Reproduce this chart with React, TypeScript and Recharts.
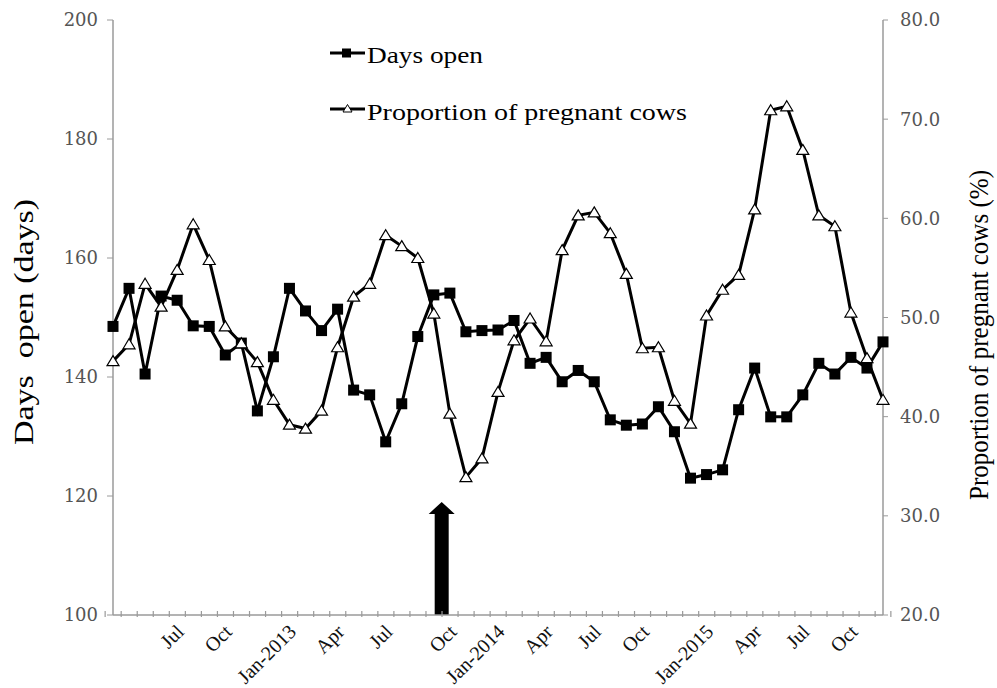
import React from 'react';
import { ComposedChart, Line, XAxis, YAxis, Legend, ReferenceLine } from 'recharts';

// one entry per 4-week period; only quarter starts carry a label
const periodLabels = [
  '', '', '', '', 'Jul', '', '', 'Oct', '', '', '', 'Jan-2013', '', '', 'Apr', '', '',
  'Jul', '', '', '', 'Oct', '', '', 'Jan-2014', '', '', 'Apr', '', '', 'Jul', '', '',
  'Oct', '', '', '', 'Jan-2015', '', '', 'Apr', '', '', 'Jul', '', '', 'Oct', '', '',
];

const daysOpen = [
  148.5, 154.9, 140.5, 153.6, 152.9, 148.6, 148.5, 143.7, 145.7, 134.3,
  143.4, 154.9, 151.1, 147.8, 151.4, 137.8, 137.0, 129.1, 135.5, 146.8,
  153.8, 154.1, 147.6, 147.8, 147.9, 149.5, 142.3, 143.3, 139.2, 141.1,
  139.2, 132.8, 131.9, 132.1, 135.0, 130.8, 123.0, 123.6, 124.4, 134.5,
  141.5, 133.3, 133.3, 137.0, 142.3, 140.5, 143.3, 141.5, 145.9,
];

const pregnantPct = [
  45.6, 47.3, 53.4, 51.1, 54.8, 59.4, 55.8, 49.1, 47.4, 45.5,
  41.7, 39.2, 38.8, 40.6, 47.0, 52.1, 53.4, 58.3, 57.2, 56.0,
  50.4, 40.3, 33.9, 35.8, 42.5, 47.7, 49.9, 47.6, 56.8, 60.3,
  60.6, 58.5, 54.4, 46.9, 47.0, 41.6, 39.3, 50.2, 52.8, 54.3,
  60.9, 70.9, 71.3, 66.9, 60.3, 59.2, 50.5, 45.9, 41.7,
];

const daysTicks = [100, 120, 140, 160, 180, 200];
const pctTicks = [20, 30, 40, 50, 60, 70, 80];

// intervention marker: between periods 21 and 22, up to 119 days
const arrowPeriod = 21;
const arrowTop = 119;

const rows = periodLabels.map((label, i) => ({
  period: i + 1,
  label,
  days: daysOpen[i],
  pct: pregnantPct[i],
}));

const W = 997;
const H = 688;
const LEFT_W = 113;
const RIGHT_W = 114;
const X_H = 73;
const BAND = (W - LEFT_W - RIGHT_W) / periodLabels.length;
const AXIS = '#9a9a9a';
const SERIF = 'Liberation Serif';
const TICK_FONT = 'DejaVu Serif';

function PeriodTick(props: any) {
  const { x, y, payload } = props;
  const i = payload.value - 1;
  const label = periodLabels[i];
  const left = x - BAND / 2;
  const ax = x + 3;
  const ay = y + 11;
  return (
    <g>
      <line x1={left} y1={y} x2={left} y2={y - 6} stroke={AXIS} strokeWidth={1.2} />
      {i === periodLabels.length - 1 && (
        <line x1={x + BAND / 2} y1={y} x2={x + BAND / 2} y2={y - 6} stroke={AXIS} strokeWidth={1.2} />
      )}
      {label && (
        <text
          x={ax}
          y={ay}
          dy="0.35em"
          textAnchor="end"
          transform={`rotate(-45 ${ax} ${ay})`}
          fontFamily={SERIF}
          fontSize={20}
          fill="#111"
        >
          {label}
        </text>
      )}
    </g>
  );
}

function SquareDot(props: any) {
  const { cx, cy } = props;
  if (cx == null || cy == null) return null;
  return <rect x={cx - 5.5} y={cy - 5.5} width={11} height={11} fill="#000" />;
}

function TriangleDot(props: any) {
  const { cx, cy } = props;
  if (cx == null || cy == null) return null;
  return (
    <polygon
      points={`${cx},${cy - 5.5} ${cx + 6},${cy + 4.5} ${cx - 6},${cy + 4.5}`}
      fill="#fff"
      stroke="#000"
      strokeWidth={1.2}
    />
  );
}

function Arrow(props: any) {
  const { x1, y1, y2 } = props;
  const cx = x1 + BAND / 2;
  const tip = Math.min(y1, y2);
  const base = Math.max(y1, y2);
  const head = 12;
  const pts = [
    [cx, tip],
    [cx + 13, tip + head],
    [cx + 7, tip + head],
    [cx + 7, base],
    [cx - 7, base],
    [cx - 7, tip + head],
    [cx - 13, tip + head],
  ]
    .map((p) => p.join(','))
    .join(' ');
  return <polygon points={pts} fill="#000" />;
}

function LegendBox() {
  return (
    <svg width={400} height={110}>
      <line x1={4} y1={23} x2={39} y2={23} stroke="#000" strokeWidth={3} />
      <rect x={16} y={18.5} width={9} height={9} fill="#000" />
      <text x={41} y={33} fontFamily={SERIF} fontSize={24} textLength={116} lengthAdjust="spacingAndGlyphs">
        Days open
      </text>
      <line x1={4} y1={79} x2={39} y2={79} stroke="#000" strokeWidth={3} />
      <polygon points="21.5,74.5 26,82 17,82" fill="#fff" stroke="#000" strokeWidth={1} />
      <text x={41} y={90} fontFamily={SERIF} fontSize={24} textLength={320} lengthAdjust="spacingAndGlyphs">
        Proportion of pregnant cows
      </text>
    </svg>
  );
}

function LeftTitle() {
  return (
    <text
      x={23}
      y={322}
      transform="rotate(-90 23 322)"
      textAnchor="middle"
      dominantBaseline="central"
      fontFamily={SERIF}
      fontSize={28}
      textLength={246}
      lengthAdjust="spacingAndGlyphs"
      style={{ whiteSpace: 'pre' }}
    >
      {'Days  open (days)'}
    </text>
  );
}

function RightTitle() {
  return (
    <text
      x={979}
      y={335}
      transform="rotate(-90 979 335)"
      textAnchor="middle"
      dominantBaseline="central"
      fontFamily={SERIF}
      fontSize={27}
      textLength={330}
      lengthAdjust="spacingAndGlyphs"
    >
      Proportion of pregnant cows (%)
    </text>
  );
}

export default function App() {
  return (
    <div style={{ position: 'absolute', left: 0, top: 0, width: W, height: H, background: '#fff' }}>
      <ComposedChart width={W} height={H} data={rows} margin={{ top: 20, right: 0, bottom: 0, left: 0 }}>
        <XAxis
          dataKey="period"
          type="category"
          interval={0}
          height={X_H}
          tickSize={0}
          tickLine={false}
          axisLine={{ stroke: AXIS, strokeWidth: 1.5 }}
          tick={<PeriodTick />}
        />
        <YAxis
          yAxisId="left"
          orientation="left"
          width={LEFT_W}
          domain={[100, 200]}
          ticks={daysTicks}
          tickSize={6}
          tickMargin={9}
          axisLine={{ stroke: AXIS, strokeWidth: 1.5 }}
          tickLine={{ stroke: AXIS }}
          tick={{ fontFamily: TICK_FONT, fontSize: 18, fill: '#555' }}
          label={<LeftTitle />}
        />
        <YAxis
          yAxisId="right"
          orientation="right"
          width={RIGHT_W}
          domain={[20, 80]}
          ticks={pctTicks}
          tickFormatter={(v: number) => v.toFixed(1)}
          tickSize={5}
          tickMargin={12}
          axisLine={{ stroke: AXIS, strokeWidth: 1.5 }}
          tickLine={{ stroke: AXIS }}
          tick={{ fontFamily: TICK_FONT, fontSize: 18, fill: '#555', textAnchor: 'start' }}
          label={<RightTitle />}
        />
        <Legend
          layout="vertical"
          align="center"
          verticalAlign="middle"
          wrapperStyle={{ top: 30, left: 326, width: 400 }}
          content={() => <LegendBox />}
        />
        <ReferenceLine
          yAxisId="left"
          segment={[
            { x: arrowPeriod, y: 100 },
            { x: arrowPeriod, y: arrowTop },
          ]}
          shape={(p: any) => <Arrow {...p} />}
        />
        <Line
          yAxisId="left"
          dataKey="days"
          name="Days open"
          stroke="#000"
          strokeWidth={3}
          dot={<SquareDot />}
          activeDot={false}
          isAnimationActive={false}
        />
        <Line
          yAxisId="right"
          dataKey="pct"
          name="Proportion of pregnant cows"
          stroke="#000"
          strokeWidth={3}
          dot={<TriangleDot />}
          activeDot={false}
          isAnimationActive={false}
        />
      </ComposedChart>
    </div>
  );
}
